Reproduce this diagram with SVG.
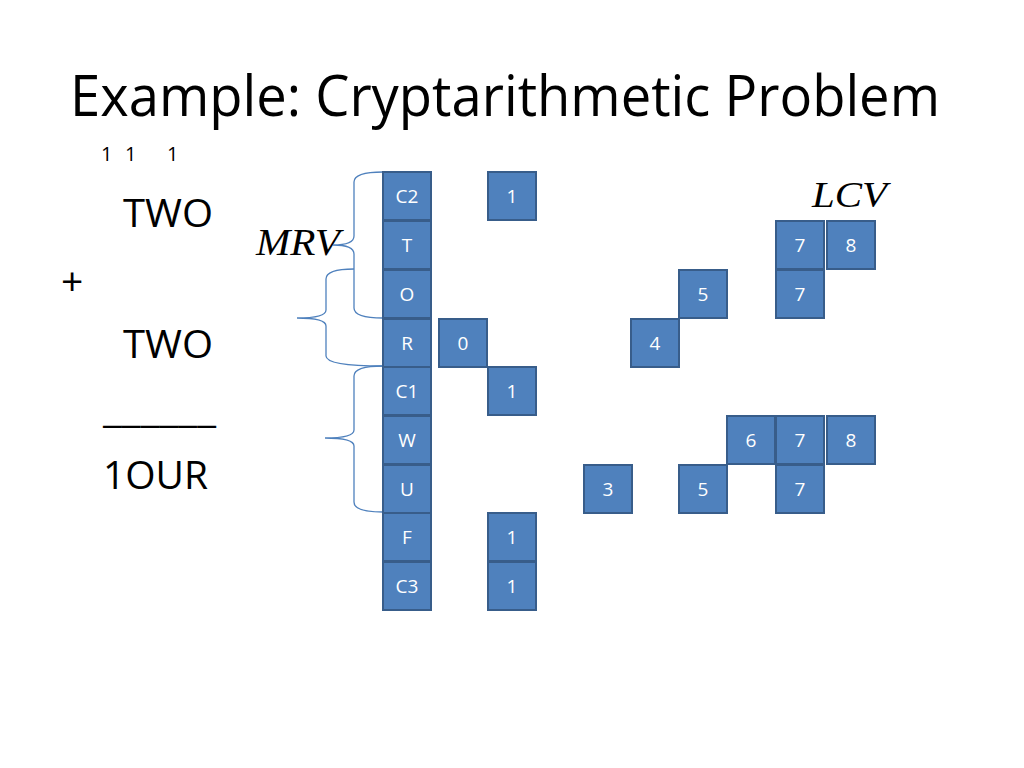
<svg xmlns="http://www.w3.org/2000/svg" width="1024" height="768" viewBox="0 0 1024 768">
<style>
.b{fill:#4f81bd;stroke:#385d8a;stroke-width:2}
.l{font-family:"Open Sans","Liberation Sans",sans-serif;font-size:19px;fill:#ffffff;text-anchor:middle}
.t{font-family:"Open Sans","Liberation Sans",sans-serif;fill:#000000}
.i{font-family:"Liberation Serif",serif;font-style:italic;fill:#000000}
.br{fill:none;stroke:#4f81bd;stroke-width:1.3}
</style>
<rect width="1024" height="768" fill="#ffffff"/>
<text class="t" x="70" y="116" font-size="56" textLength="870" lengthAdjust="spacingAndGlyphs">Example: Cryptarithmetic Problem</text>
<g id="carries">
<text class="t" x="101" y="161" font-size="20">1</text>
<text class="t" x="125" y="161" font-size="20">1</text>
<text class="t" x="167" y="161" font-size="20">1</text>
</g>
<g id="sum">
<text class="t" x="123" y="227" font-size="39" textLength="90" lengthAdjust="spacingAndGlyphs">TWO</text>
<text class="t" x="61" y="295" font-size="39">+</text>
<text class="t" x="123" y="358" font-size="39" textLength="90" lengthAdjust="spacingAndGlyphs">TWO</text>
<text class="t" x="103" y="422" font-size="39" textLength="113" lengthAdjust="spacingAndGlyphs">______</text>
<text class="t" x="103" y="489" font-size="39" textLength="105" lengthAdjust="spacingAndGlyphs">1OUR</text>
</g>
<text id="mrv" class="i" x="256" y="255" font-size="38" textLength="84" lengthAdjust="spacingAndGlyphs">MRV</text>
<text id="lcv" class="i" x="812" y="207" font-size="36" textLength="75" lengthAdjust="spacingAndGlyphs">LCV</text>
<g id="connectors">
<path class="br" d="M383 172 Q354 172 354 182 L354 236 Q354 245 333 245 Q354 245 354 254 L354 308 Q354 318 383 318"/>
<path class="br" d="M354 269 Q326 269 326 279 L326 310 Q326 318 297 318 Q326 318 326 326 L326 356 Q326 366 383 366"/>
<path class="br" d="M383 366 Q354 366 354 376 L354 430 Q354 438 325 438 Q354 438 354 446 L354 502 Q354 512 383 512"/>
</g>
<g id="var-C2"><rect class="b" x="383" y="172" width="48" height="48"/><text class="l" x="407" y="203">C2</text></g>
<g id="var-T"><rect class="b" x="383" y="221" width="48" height="48"/><text class="l" x="407" y="252">T</text></g>
<g id="var-O"><rect class="b" x="383" y="270" width="48" height="48"/><text class="l" x="407" y="301">O</text></g>
<g id="var-R"><rect class="b" x="383" y="319" width="48" height="48"/><text class="l" x="407" y="350">R</text></g>
<g id="var-C1"><rect class="b" x="383" y="367" width="48" height="48"/><text class="l" x="407" y="398">C1</text></g>
<g id="var-W"><rect class="b" x="383" y="416" width="48" height="48"/><text class="l" x="407" y="447">W</text></g>
<g id="var-U"><rect class="b" x="383" y="465" width="48" height="48"/><text class="l" x="407" y="496">U</text></g>
<g id="var-F"><rect class="b" x="383" y="513" width="48" height="48"/><text class="l" x="407" y="544">F</text></g>
<g id="var-C3"><rect class="b" x="383" y="562" width="48" height="48"/><text class="l" x="407" y="593">C3</text></g>
<g id="C2-1"><rect class="b" x="488" y="172" width="48" height="48"/><text class="l" x="512" y="203">1</text></g>
<g id="T-7"><rect class="b" x="776" y="221" width="48" height="48"/><text class="l" x="800" y="252">7</text></g>
<g id="T-8"><rect class="b" x="827" y="221" width="48" height="48"/><text class="l" x="851" y="252">8</text></g>
<g id="O-5"><rect class="b" x="679" y="270" width="48" height="48"/><text class="l" x="703" y="301">5</text></g>
<g id="O-7"><rect class="b" x="776" y="270" width="48" height="48"/><text class="l" x="800" y="301">7</text></g>
<g id="R-0"><rect class="b" x="439" y="319" width="48" height="48"/><text class="l" x="463" y="350">0</text></g>
<g id="R-4"><rect class="b" x="631" y="319" width="48" height="48"/><text class="l" x="655" y="350">4</text></g>
<g id="C1-1"><rect class="b" x="488" y="367" width="48" height="48"/><text class="l" x="512" y="398">1</text></g>
<g id="W-6"><rect class="b" x="727" y="416" width="48" height="48"/><text class="l" x="751" y="447">6</text></g>
<g id="W-7"><rect class="b" x="776" y="416" width="48" height="48"/><text class="l" x="800" y="447">7</text></g>
<g id="W-8"><rect class="b" x="827" y="416" width="48" height="48"/><text class="l" x="851" y="447">8</text></g>
<g id="U-3"><rect class="b" x="584" y="465" width="48" height="48"/><text class="l" x="608" y="496">3</text></g>
<g id="U-5"><rect class="b" x="679" y="465" width="48" height="48"/><text class="l" x="703" y="496">5</text></g>
<g id="U-7"><rect class="b" x="776" y="465" width="48" height="48"/><text class="l" x="800" y="496">7</text></g>
<g id="F-1"><rect class="b" x="488" y="513" width="48" height="48"/><text class="l" x="512" y="544">1</text></g>
<g id="C3-1"><rect class="b" x="488" y="562" width="48" height="48"/><text class="l" x="512" y="593">1</text></g>
</svg>
